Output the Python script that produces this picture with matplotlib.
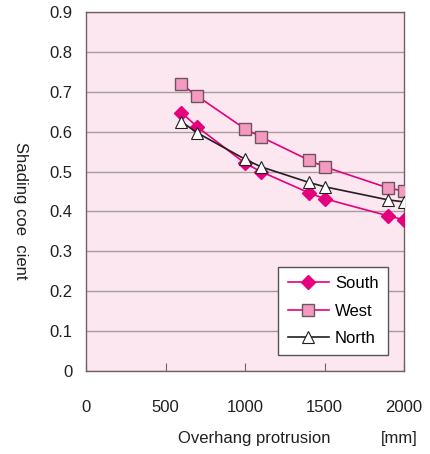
import matplotlib.pyplot as plt

plt.rcParams['font.family'] = ['Liberation Sans', 'DejaVu Sans']

# Daten
ueberstand = [600, 700, 1000, 1100, 1400, 1500, 1900, 2000]
sued = [0.648, 0.612, 0.521, 0.500, 0.447, 0.432, 0.389, 0.379]
west = [0.719, 0.689, 0.607, 0.587, 0.529, 0.512, 0.459, 0.451]
nord = [0.625, 0.597, 0.531, 0.512, 0.473, 0.462, 0.429, 0.424]

x_ticks = [0, 500, 1000, 1500, 2000]
y_ticks = [0, 0.1, 0.2, 0.3, 0.4, 0.5, 0.6, 0.7, 0.8, 0.9]

magenta = '#e6007e'
textfarbe = '#231f20'
fs = 12

fig = plt.figure(figsize=(4.3, 4.54), dpi=100)
ax = fig.add_axes([86 / 430, 1 - 371 / 454, (404 - 86) / 430, (371 - 12) / 454])
ax.set_facecolor('#fce6ef')

ax.plot(ueberstand, sued, color=magenta, lw=1.2, marker='D', ms=7,
        mfc=magenta, mec=magenta, label='South', zorder=3)
ax.plot(ueberstand, west, color=magenta, lw=1.2, marker='s', ms=9,
        mfc='#f49ac1', mec='#6d5560', mew=1.0, label='West', zorder=3)
ax.plot(ueberstand, nord, color=textfarbe, lw=1.2, marker='^', ms=9,
        mfc='white', mec=textfarbe, mew=0.8, label='North', zorder=4)

ax.set_xlim(0, 2000)
ax.set_ylim(0, 0.9)
ax.set_xticks(x_ticks)
ax.set_yticks(y_ticks)
ax.set_yticklabels(['0' if v == 0 else f'{v:.1f}' for v in y_ticks])
ax.tick_params(axis='x', direction='in', length=6, color='#6d6266', pad=21,
               labelsize=fs, labelcolor=textfarbe)
ax.tick_params(axis='y', length=0, pad=9.5, labelsize=fs, labelcolor=textfarbe)

ax.grid(axis='y', color='#a39da0', lw=1.0)
ax.set_axisbelow(True)
for s in ax.spines.values():
    s.set_color('#6d6266')
    s.set_linewidth(1.0)

leg = ax.legend(loc='lower right', bbox_to_anchor=(0.965, 0.03), fontsize=fs,
                handlelength=2.5, labelspacing=0.75, borderpad=0.55,
                handletextpad=0.35, borderaxespad=0.3,
                fancybox=False, framealpha=1)
leg.get_frame().set_edgecolor('#555555')
leg.get_frame().set_linewidth(1.0)

fig.text(20 / 430, 1 - 211 / 454, 'Shading coe  cient', rotation=-90,
         ha='center', va='center', fontsize=fs, color=textfarbe)
fig.text(254 / 430, 1 - 438 / 454, 'Overhang protrusion', ha='center',
         va='center', fontsize=fs, color=textfarbe)
fig.text(399 / 430, 1 - 438 / 454, '[mm]', ha='center', va='center',
         fontsize=fs, color=textfarbe)

plt.savefig('out.png', dpi=100)
